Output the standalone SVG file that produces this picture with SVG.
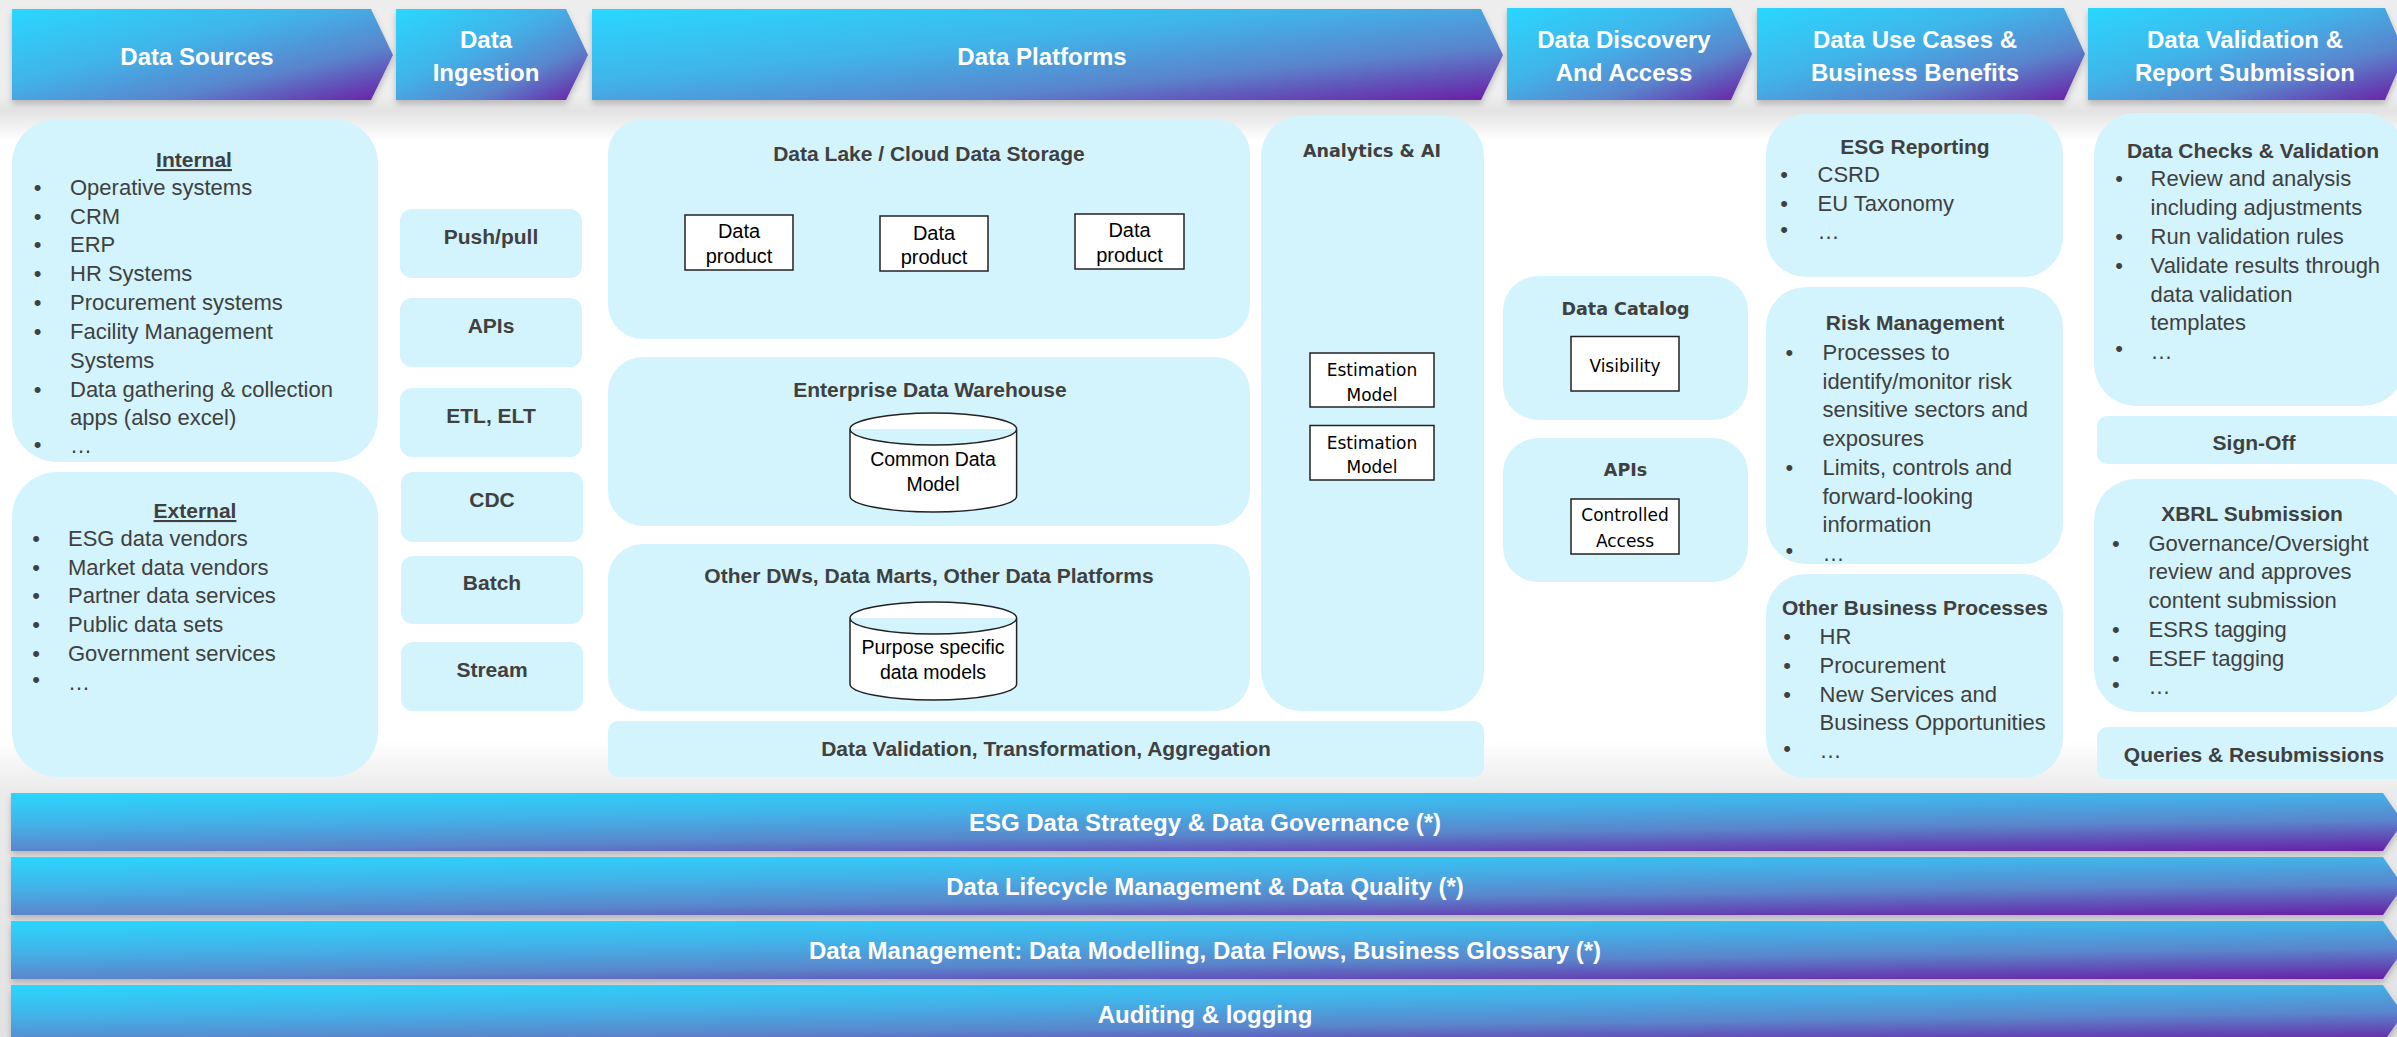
<svg xmlns="http://www.w3.org/2000/svg" width="2397" height="1037" viewBox="0 0 2397 1037">
<defs>
<linearGradient id="gHead" x1="0" y1="0" x2="1" y2="1">
<stop offset="0" stop-color="#29D7FF"/><stop offset="0.4" stop-color="#40B4E9"/><stop offset="0.7" stop-color="#5A84CC"/><stop offset="1" stop-color="#6B1CA5"/>
</linearGradient>
<linearGradient id="gBar" x1="0" y1="0" x2="0.642" y2="1.193">
<stop offset="0" stop-color="#29D7FF"/><stop offset="0.35" stop-color="#42B2E8"/><stop offset="0.65" stop-color="#5A86CC"/><stop offset="1" stop-color="#6A1EA6"/>
</linearGradient>
<linearGradient id="gTop" x1="0" y1="0" x2="0" y2="1">
<stop offset="0" stop-color="#EDEDED"/><stop offset="0.68" stop-color="#EEEEEE"/><stop offset="0.8" stop-color="#E3E3E3"/><stop offset="1" stop-color="#FFFFFF"/>
</linearGradient>
<linearGradient id="gBot" x1="0" y1="0" x2="0" y2="1">
<stop offset="0" stop-color="#FFFFFF"/><stop offset="0.17" stop-color="#EBEBEB"/><stop offset="1" stop-color="#E2E2E2"/>
</linearGradient>
<filter id="sh" x="-5%" y="-20%" width="110%" height="150%">
<feDropShadow dx="0" dy="4" stdDeviation="3" flood-color="#000" flood-opacity="0.22"/>
</filter>
<style>
.box{fill:#D3F4FC}
.hd{fill:url(#gHead);filter:url(#sh)}
.bar{fill:url(#gBar);filter:url(#sh)}
.ht{font-family:"Liberation Sans",Arial,sans-serif;font-weight:bold;font-size:24px;fill:#FFFFFF;text-anchor:middle}
.t{font-family:"Liberation Sans",Arial,sans-serif;font-weight:bold;font-size:21px;fill:#404040;text-anchor:middle}
.b{font-family:"Liberation Sans",Arial,sans-serif;font-size:22px;fill:#404040}
.bu{font-family:"Liberation Sans",Arial,sans-serif;font-size:22px;fill:#404040;text-anchor:middle}
.wb{fill:#FFFFFF;stroke:#222;stroke-width:1.5}
.wt{font-family:"Liberation Sans",Arial,sans-serif;font-size:20px;fill:#000;text-anchor:middle}
.vt{font-family:"DejaVu Sans",Verdana,sans-serif;font-size:17px;fill:#000;text-anchor:middle}
.vb{font-family:"DejaVu Sans",Verdana,sans-serif;font-weight:bold;font-size:17.5px;fill:#404040;text-anchor:middle}
</style>
</defs>

<rect x="0" y="0" width="2397" height="1037" fill="#FFFFFF"/>
<rect x="0" y="0" width="2397" height="140" fill="url(#gTop)"/>
<rect x="0" y="740" width="2397" height="297" fill="url(#gBot)"/>

<g id="headers">
<g id="h-sources"><path class="hd" d="M12,9 H371 L393,55 L371,100 H12 Z"/><text class="ht" x="197" y="65">Data Sources</text></g>
<g id="h-ingestion"><path class="hd" d="M396,9 H566 L588,55 L566,100 H396 Z"/><text class="ht" x="486" y="48">Data</text><text class="ht" x="486" y="81">Ingestion</text></g>
<g id="h-platforms"><path class="hd" d="M592,9 H1481 L1503,55 L1481,100 H592 Z"/><text class="ht" x="1042" y="65">Data Platforms</text></g>
<g id="h-discovery"><path class="hd" d="M1507,8 H1731 L1752,54 L1731,100 H1507 Z"/><text class="ht" x="1624" y="48">Data Discovery</text><text class="ht" x="1624" y="81">And Access</text></g>
<g id="h-usecases"><path class="hd" d="M1757,8 H2064 L2085,54 L2064,100 H1757 Z"/><text class="ht" x="1915" y="48">Data Use Cases &amp;</text><text class="ht" x="1915" y="81">Business Benefits</text></g>
<g id="h-validation"><path class="hd" d="M2088,8 H2385 L2405,54 L2385,100 H2088 Z"/><text class="ht" x="2245" y="48">Data Validation &amp;</text><text class="ht" x="2245" y="81">Report Submission</text></g>
</g>

<g id="internal">
<rect class="box" x="12" y="119" width="366" height="343" rx="45"/>
<text class="t" x="194" y="167" text-decoration="underline">Internal</text>
<g class="bu"><text x="37.5" y="195">•</text><text x="37.5" y="224">•</text><text x="37.5" y="252">•</text><text x="37.5" y="281">•</text><text x="37.5" y="310">•</text><text x="37.5" y="339">•</text><text x="37.5" y="397">•</text><text x="37.5" y="452">•</text></g>
<g class="b"><text x="70" y="195">Operative systems</text><text x="70" y="224">CRM</text><text x="70" y="252">ERP</text><text x="70" y="281">HR Systems</text><text x="70" y="310">Procurement systems</text><text x="70" y="339">Facility Management</text><text x="70" y="368">Systems</text><text x="70" y="397">Data gathering &amp; collection</text><text x="70" y="425">apps (also excel)</text><text x="70" y="453">…</text></g>
</g>

<g id="external">
<rect class="box" x="12" y="472" width="366" height="305" rx="45"/>
<text class="t" x="195" y="518" text-decoration="underline">External</text>
<g class="bu"><text x="36" y="546">•</text><text x="36" y="575">•</text><text x="36" y="603">•</text><text x="36" y="632">•</text><text x="36" y="661">•</text><text x="36" y="687">•</text></g>
<g class="b"><text x="68" y="546">ESG data vendors</text><text x="68" y="575">Market data vendors</text><text x="68" y="603">Partner data services</text><text x="68" y="632">Public data sets</text><text x="68" y="661">Government services</text><text x="68" y="690">…</text></g>
</g>

<g id="ing-pushpull"><rect class="box" x="400" y="209" width="182" height="69" rx="12"/><text class="t" x="491" y="243.5">Push/pull</text></g>
<g id="ing-apis"><rect class="box" x="400" y="298" width="182" height="69" rx="12"/><text class="t" x="491" y="332.5">APIs</text></g>
<g id="ing-etl"><rect class="box" x="400" y="388" width="182" height="69" rx="12"/><text class="t" x="491" y="422.5">ETL, ELT</text></g>
<g id="ing-cdc"><rect class="box" x="401" y="472" width="182" height="70" rx="12"/><text class="t" x="492" y="507">CDC</text></g>
<g id="ing-batch"><rect class="box" x="401" y="556" width="182" height="68" rx="12"/><text class="t" x="492" y="590">Batch</text></g>
<g id="ing-stream"><rect class="box" x="401" y="642" width="182" height="69" rx="12"/><text class="t" x="492" y="676.5">Stream</text></g>

<g id="datalake">
<rect class="box" x="608" y="119" width="642" height="220" rx="35"/>
<text class="t" x="929" y="161">Data Lake / Cloud Data Storage</text>
<rect class="wb" x="685" y="215" width="108" height="55"/><text class="wt" x="739" y="238">Data</text><text class="wt" x="739" y="262.5">product</text>
<rect class="wb" x="880" y="216" width="108" height="55"/><text class="wt" x="934" y="239.5">Data</text><text class="wt" x="934" y="264">product</text>
<rect class="wb" x="1075" y="214" width="109" height="55"/><text class="wt" x="1129.5" y="236.5">Data</text><text class="wt" x="1129.5" y="261.5">product</text>
</g>

<g id="edw">
<rect class="box" x="608" y="357" width="642" height="169" rx="35"/>
<text class="t" x="930" y="396.5">Enterprise Data Warehouse</text>
<path class="wb" d="M850,429 A83.3,16 0 0 1 1016.6,429 V496 A83.3,16 0 0 1 850,496 Z M850,429 A83.3,16 0 0 0 1016.6,429"/>
<text class="wt" x="933" y="466" style="font-size:19.5px">Common Data</text><text class="wt" x="933" y="491" style="font-size:19.5px">Model</text>
</g>

<g id="otherdw">
<rect class="box" x="608" y="544" width="642" height="167" rx="35"/>
<text class="t" x="929" y="583">Other DWs, Data Marts, Other Data Platforms</text>
<path class="wb" d="M850,618 A83.3,16 0 0 1 1016.6,618 V684 A83.3,16 0 0 1 850,684 Z M850,618 A83.3,16 0 0 0 1016.6,618"/>
<text class="wt" x="933" y="654" style="font-size:19.5px">Purpose specific</text><text class="wt" x="933" y="679" style="font-size:19.5px">data models</text>
</g>

<g id="dvta">
<rect class="box" x="608" y="721" width="876" height="56" rx="10"/>
<text class="t" x="1046" y="755.5">Data Validation, Transformation, Aggregation</text>
</g>

<g id="analytics">
<rect class="box" x="1261" y="116" width="223" height="595" rx="40"/>
<text class="vb" x="1372" y="157">Analytics &amp; AI</text>
<rect class="wb" x="1310" y="353" width="124" height="54"/><text class="vt" x="1372" y="376">Estimation</text><text class="vt" x="1372" y="400.5">Model</text>
<rect class="wb" x="1310" y="425.5" width="124" height="54.5"/><text class="vt" x="1372" y="448.5">Estimation</text><text class="vt" x="1372" y="473">Model</text>
</g>

<g id="catalog">
<rect class="box" x="1503" y="276" width="245" height="144" rx="35"/>
<text class="vb" x="1625.5" y="314.5">Data Catalog</text>
<rect class="wb" x="1571" y="336.5" width="108" height="54.5"/><text class="vt" x="1625" y="372">Visibility</text>
</g>

<g id="apis-access">
<rect class="box" x="1503" y="438" width="245" height="144" rx="35"/>
<text class="vb" x="1625.5" y="476">APIs</text>
<rect class="wb" x="1571" y="499" width="108" height="55"/><text class="vt" x="1625" y="521">Controlled</text><text class="vt" x="1625" y="547">Access</text>
</g>

<g id="esg-reporting">
<rect class="box" x="1766" y="114" width="297" height="163" rx="40"/>
<text class="t" x="1915" y="154">ESG Reporting</text>
<g class="bu"><text x="1784" y="182">•</text><text x="1784" y="210.7">•</text><text x="1784" y="237">•</text></g>
<g class="b"><text x="1817.5" y="182">CSRD</text><text x="1817.5" y="210.7">EU Taxonomy</text><text x="1817.5" y="239.4">…</text></g>
</g>

<g id="risk">
<rect class="box" x="1766" y="287" width="297" height="277" rx="40"/>
<text class="t" x="1915" y="330">Risk Management</text>
<g class="bu"><text x="1789.4" y="360">•</text><text x="1789.4" y="474.8">•</text><text x="1789.4" y="558">•</text></g>
<g class="b"><text x="1822.5" y="360">Processes to</text><text x="1822.5" y="388.7">identify/monitor risk</text><text x="1822.5" y="417.4">sensitive sectors and</text><text x="1822.5" y="446.1">exposures</text><text x="1822.5" y="474.8">Limits, controls and</text><text x="1822.5" y="503.5">forward-looking</text><text x="1822.5" y="532.2">information</text><text x="1822.5" y="560.5">…</text></g>
</g>

<g id="other-business">
<rect class="box" x="1766" y="574" width="297" height="204" rx="40"/>
<text class="t" x="1915" y="615">Other Business Processes</text>
<g class="bu"><text x="1787" y="644">•</text><text x="1787" y="673">•</text><text x="1787" y="701.7">•</text><text x="1787" y="756">•</text></g>
<g class="b"><text x="1819.6" y="644">HR</text><text x="1819.6" y="673">Procurement</text><text x="1819.6" y="701.7">New Services and</text><text x="1819.6" y="730">Business Opportunities</text><text x="1819.6" y="758">…</text></g>
</g>

<g id="data-checks">
<rect class="box" x="2094" y="113" width="311" height="293" rx="42"/>
<text class="t" x="2253" y="157.5">Data Checks &amp; Validation</text>
<g class="bu"><text x="2119" y="186">•</text><text x="2119" y="244">•</text><text x="2119" y="272.7">•</text><text x="2119" y="356">•</text></g>
<g class="b"><text x="2150.6" y="186">Review and analysis</text><text x="2150.6" y="215">including adjustments</text><text x="2150.6" y="244">Run validation rules</text><text x="2150.6" y="272.7">Validate results through</text><text x="2150.6" y="301.5">data validation</text><text x="2150.6" y="330">templates</text><text x="2150.6" y="358.5">…</text></g>
</g>

<g id="sign-off">
<rect class="box" x="2097" y="416" width="308" height="48" rx="10"/>
<text class="t" x="2254" y="450">Sign-Off</text>
</g>

<g id="xbrl">
<rect class="box" x="2094" y="479" width="311" height="233" rx="42"/>
<text class="t" x="2252" y="520.7">XBRL Submission</text>
<g class="bu"><text x="2115.8" y="550.7">•</text><text x="2115.8" y="636.8">•</text><text x="2115.8" y="665.5">•</text><text x="2115.8" y="692">•</text></g>
<g class="b"><text x="2148.5" y="550.7">Governance/Oversight</text><text x="2148.5" y="579.4">review and approves</text><text x="2148.5" y="608.1">content submission</text><text x="2148.5" y="636.8">ESRS tagging</text><text x="2148.5" y="665.5">ESEF tagging</text><text x="2148.5" y="694.2">…</text></g>
</g>

<g id="queries">
<rect class="box" x="2097" y="727" width="308" height="52" rx="10"/>
<text class="t" x="2254" y="761.5">Queries &amp; Resubmissions</text>
</g>

<g id="bars">
<g id="bar-strategy"><path class="bar" d="M11,793 H2383 L2403,822 L2383,851 H11 Z"/><text class="ht" x="1205" y="830.5">ESG Data Strategy &amp; Data Governance (*)</text></g>
<g id="bar-lifecycle"><path class="bar" d="M11,857 H2383 L2403,886 L2383,915 H11 Z"/><text class="ht" x="1205" y="894.5">Data Lifecycle Management &amp; Data Quality (*)</text></g>
<g id="bar-management"><path class="bar" d="M11,921 H2383 L2403,950 L2383,979 H11 Z"/><text class="ht" x="1205" y="958.5">Data Management: Data Modelling, Data Flows, Business Glossary (*)</text></g>
<g id="bar-auditing"><path class="bar" d="M11,985 H2383 L2403,1014 L2383,1043 H11 Z"/><text class="ht" x="1205" y="1022.5">Auditing &amp; logging</text></g>
</g>

<g id="connectors"></g>
</svg>
